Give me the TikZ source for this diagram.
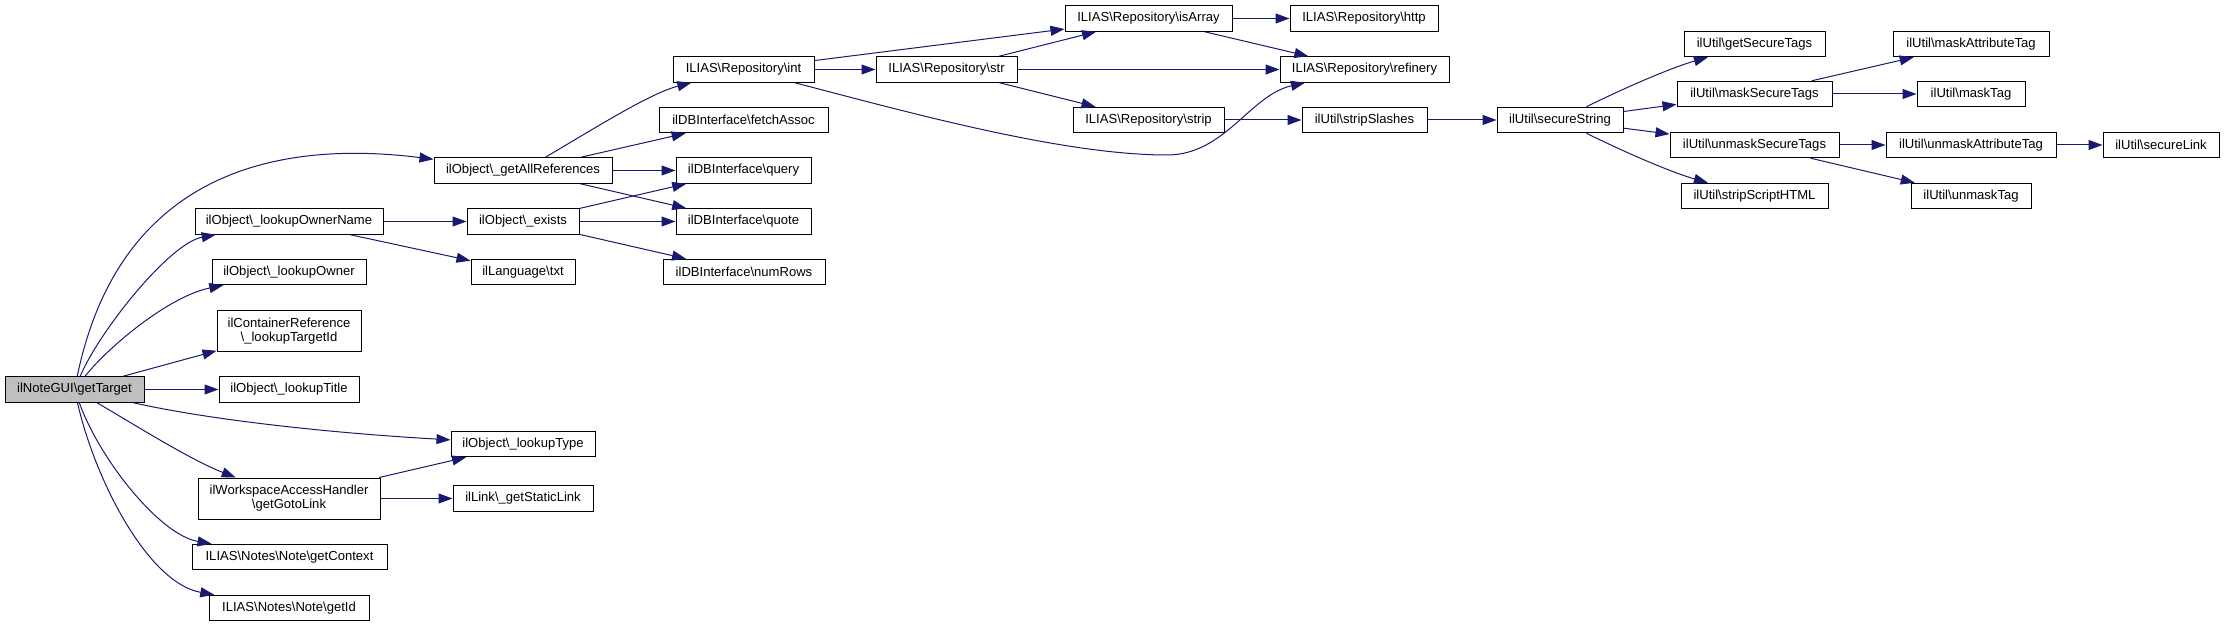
\documentclass[tikz,border=0pt]{standalone}
\usepackage{fontspec}
\setmainfont{Liberation Sans}
\usetikzlibrary{arrows.meta}
\newcommand\bsl{\textbackslash}
\definecolor{edgeblue}{HTML}{191970}
\definecolor{boxgray}{HTML}{BFBFBF}
\begin{document}
\begin{tikzpicture}[x=0.75pt,y=-0.75pt,
  box/.style={draw=black,fill=white,line width=0.75pt,inner sep=0pt,
    minimum height=25.5*0.75pt,font=\fontsize{9.8}{10.5}\selectfont,align=center},
  bw/.style={minimum width=#1*0.75pt},
  bh/.style={minimum height=#1*0.75pt},
  edge/.style={draw=edgeblue,line width=0.75pt,-{Triangle[length=10.5pt,width=7.5pt]}}]
\useasboundingbox (0,0) rectangle (2224,627);
% column 0
\node[box,bw=139,fill=boxgray] (gt) at (74.5,389.5) {ilNoteGUI\bsl getTarget};
% column 1
\node[box,bw=188] (lon) at (289,221.5) {ilObject\bsl\_lookupOwnerName};
\node[box,bw=154] (lo) at (289,272) {ilObject\bsl\_lookupOwner};
\node[box,bw=144,bh=40] (ltid) at (289,331) {ilContainerReference\\\bsl\_lookupTargetId};
\node[box,bw=140] (lt) at (289,389.5) {ilObject\bsl\_lookupTitle};
\node[box,bw=182,bh=41] (ggl) at (289,498.5) {ilWorkspaceAccessHandler\\\bsl getGotoLink};
\node[box,bw=195] (gctx) at (289.5,557) {ILIAS\bsl Notes\bsl Note\bsl getContext};
\node[box,bw=160] (gid) at (289,608) {ILIAS\bsl Notes\bsl Note\bsl getId};
% column 2
\node[box,bw=178] (gar) at (523,170.5) {ilObject\bsl\_getAllReferences};
\node[box,bw=112] (ex) at (523,221.5) {ilObject\bsl\_exists};
\node[box,bw=104] (txt) at (523,272) {ilLanguage\bsl txt};
\node[box,bw=144] (ltype) at (523,444) {ilObject\bsl\_lookupType};
\node[box,bw=140] (gsl) at (523,498.5) {ilLink\bsl\_getStaticLink};
% column 3
\node[box,bw=141] (int) at (743.5,69.5) {ILIAS\bsl Repository\bsl int};
\node[box,bw=169] (fa) at (743.5,120) {ilDBInterface\bsl fetchAssoc};
\node[box,bw=135] (query) at (743.5,170.5) {ilDBInterface\bsl query};
\node[box,bw=135] (quote) at (743.5,221.5) {ilDBInterface\bsl quote};
\node[box,bw=162] (nr) at (744,272) {ilDBInterface\bsl numRows};
% column 4
\node[box,bw=141] (str) at (946.5,69.5) {ILIAS\bsl Repository\bsl str};
% column 5
\node[box,bw=167] (isArray) at (1148.5,18.5) {ILIAS\bsl Repository\bsl isArray};
\node[box,bw=151] (strip) at (1148.5,120) {ILIAS\bsl Repository\bsl strip};
% column 6
\node[box,bw=148] (http) at (1364,18.5) {ILIAS\bsl Repository\bsl http};
\node[box,bw=169] (ref) at (1364.5,69.5) {ILIAS\bsl Repository\bsl refinery};
\node[box,bw=125] (ssl) at (1364.5,120) {ilUtil\bsl stripSlashes};
% column 7
\node[box,bw=126] (ss) at (1560,120) {ilUtil\bsl secureString};
% column 8
\node[box,bw=141] (gst) at (1754.5,44) {ilUtil\bsl getSecureTags};
\node[box,bw=155] (mst) at (1754.5,94) {ilUtil\bsl maskSecureTags};
\node[box,bw=169] (ust) at (1754.5,145) {ilUtil\bsl unmaskSecureTags};
\node[box,bw=147] (ssh) at (1754.5,196) {ilUtil\bsl stripScriptHTML};
% column 9
\node[box,bw=156] (mat) at (1971,44) {ilUtil\bsl maskAttributeTag};
\node[box,bw=108] (mt) at (1971,94) {ilUtil\bsl maskTag};
\node[box,bw=170] (uat) at (1971,145) {ilUtil\bsl unmaskAttributeTag};
\node[box,bw=120] (ut) at (1971,196) {ilUtil\bsl unmaskTag};
% column 10
\node[box,bw=116] (sl) at (2161,145) {ilUtil\bsl secureLink};
% edges
\draw[edge] (gt) .. controls (120,170) and (280,140) .. (gar);
\draw[edge] (gt) .. controls (100,330) and (170,243) .. (lon);
\draw[edge] (gt) .. controls (110,345) and (170,296) .. (lo);
\draw[edge] (gt) -- (ltid);
\draw[edge] (gt) -- (lt);
\draw[edge] (gt) .. controls (210,420) and (330,433) .. (ltype);
\draw[edge] (gt) .. controls (140,428) and (190,459.5) .. (ggl);
\draw[edge] (gt) .. controls (100,460) and (160,535) .. (gctx);
\draw[edge] (gt) .. controls (95,480) and (148,583) .. (gid);
\draw[edge] (lon) -- (ex);
\draw[edge] (lon) -- (txt);
\draw[edge] (gar) .. controls (600,125) and (651,93) .. (int);
\draw[edge] (gar) -- (fa);
\draw[edge] (gar) -- (query);
\draw[edge] (gar) -- (quote);
\draw[edge] (ex) -- (query);
\draw[edge] (ex) -- (quote);
\draw[edge] (ex) -- (nr);
\draw[edge] (ggl) -- (ltype);
\draw[edge] (ggl) -- (gsl);
\draw[edge] (int) -- (isArray);
\draw[edge] (int) -- (str);
\draw[edge] (int) .. controls (900,110) and (1060,155) .. (1167,155) .. controls (1225,155) and (1250,95) .. (ref);
\draw[edge] (str) -- (isArray);
\draw[edge] (str) -- (ref);
\draw[edge] (str) -- (strip);
\draw[edge] (isArray) -- (http);
\draw[edge] (isArray) -- (ref);
\draw[edge] (strip) -- (ssl);
\draw[edge] (ssl) -- (ss);
\draw[edge] (ss) .. controls (1620,90) and (1670,68) .. (gst);
\draw[edge] (ss) -- (mst);
\draw[edge] (ss) -- (ust);
\draw[edge] (ss) .. controls (1620,150) and (1670,172) .. (ssh);
\draw[edge] (mst) -- (mat);
\draw[edge] (mst) -- (mt);
\draw[edge] (ust) -- (uat);
\draw[edge] (ust) -- (ut);
\draw[edge] (uat) -- (sl);
\end{tikzpicture}
\end{document}
